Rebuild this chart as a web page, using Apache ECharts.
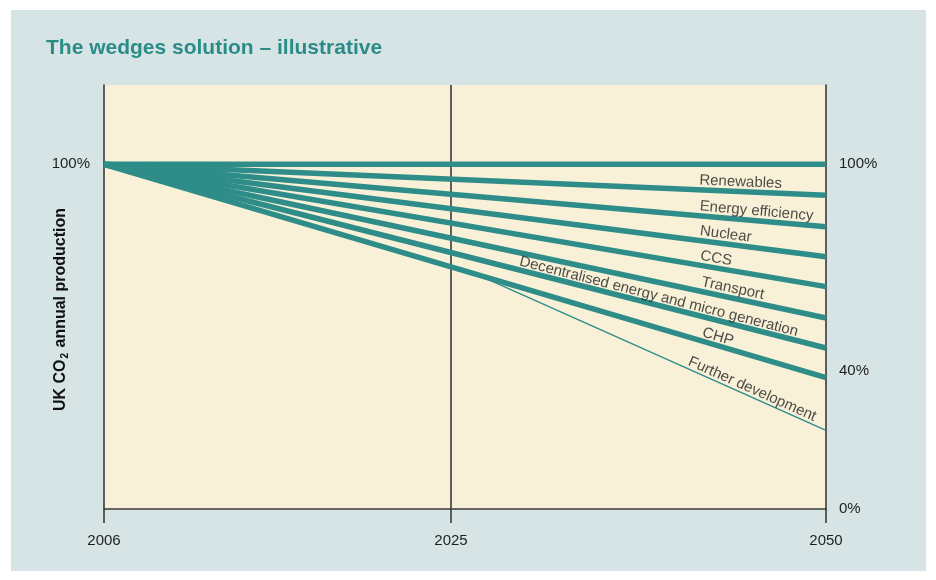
<!DOCTYPE html>
<html>
<head>
<meta charset="utf-8">
<title>The wedges solution – illustrative</title>
<script src="https://cdn.jsdelivr.net/npm/echarts@6/dist/echarts.min.js"></script>
<style>
  html, body { margin: 0; padding: 0; background: #ffffff; }
  #chart { width: 936px; height: 580px; }
</style>
</head>
<body>
<div id="chart"></div>
<script>
// Timeline ticks: the horizontal axis is illustrative, not to scale,
// so each year carries its own position along the axis (0 = start, 100 = end).
const yearLabels = ['2006', '2025', '2050'];
const yearPos = [0, 48.06, 100];

// Right-hand percentage ticks and the single left-hand tick
const rightTicks = [0, 40, 100];
const leftTicks = [100];

// Starting level of UK CO2 annual production (%)
const startLevel = 100;

// Each wedge's lower boundary: name and level reached by 2050 (%)
const wedgeNames = [
  'Renewables',
  'Energy efficiency',
  'Nuclear',
  'CCS',
  'Transport',
  'Decentralised energy and micro generation',
  'CHP'
];
const wedgeEnds = [91.0, 81.9, 73.2, 64.5, 55.4, 46.7, 38.1];

// Thin "Further development" line branches off the CHP line
const furtherName = 'Further development';
const furtherBranchPos = 51.7;
const furtherEnd = 22.8;

// Where each label starts along the timeline (styling only)
const wedgeLabelAt = [82.4, 82.4, 82.4, 82.4, 82.5, 57.3, 82.6];
const furtherLabelAt = 80.6;

const TEAL = '#2e8d89';
const INK = '#1e1e1e';
const AXIS = '#3a3a3a';
const FONT = '"Liberation Sans", Arial, Helvetica, sans-serif';

const chart = echarts.init(document.getElementById('chart'), null, { renderer: 'canvas' });

// Level on a straight line from (0, startLevel) to (100, end)
function levelAt(end, pos) {
  return startLevel + (end - startLevel) * pos / 100;
}

const chpEnd = wedgeEnds[wedgeEnds.length - 1];
const furtherStart = [furtherBranchPos, levelAt(chpEnd, furtherBranchPos)];

const lineSeries = [];
lineSeries.push({
  name: 'Baseline',
  type: 'line',
  data: [[0, startLevel], [100, startLevel]],
  symbol: 'none',
  lineStyle: { color: TEAL, width: 5.5, cap: 'butt' },
  z: 3,
  silent: true,
  markLine: {
    silent: true,
    symbol: 'none',
    label: { show: false },
    lineStyle: { color: AXIS, width: 1.6, type: 'solid' },
    data: [{ xAxis: yearPos[1] }],
    z: 1
  }
});
wedgeNames.forEach((name, i) => {
  lineSeries.push({
    name: name,
    type: 'line',
    data: [[0, startLevel], [100, wedgeEnds[i]]],
    symbol: 'none',
    lineStyle: { color: TEAL, width: 5.5, cap: 'butt' },
    z: 3,
    silent: true
  });
});
lineSeries.push({
  name: furtherName,
  type: 'line',
  data: [furtherStart, [100, furtherEnd]],
  symbol: 'none',
  lineStyle: { color: TEAL, width: 1.5 },
  z: 3,
  silent: true
});

const option = {
  animation: false,
  backgroundColor: 'transparent',
  graphic: [{
    type: 'rect',
    z: -100,
    silent: true,
    shape: { x: 11, y: 10, width: 915, height: 561 },
    style: { fill: '#d6e4e5' }
  }],
  title: {
    text: 'The wedges solution – illustrative',
    left: 46,
    top: 38,
    padding: 0,
    textStyle: { color: '#2b8c87', fontSize: 21, fontWeight: 'bold', fontFamily: FONT }
  },
  grid: {
    left: 104, right: 110, top: 85, bottom: 71,
    show: true, backgroundColor: '#f8f1d8', borderWidth: 0
  },
  xAxis: {
    type: 'value',
    min: 0,
    max: 100,
    splitLine: { show: false },
    axisLine: { show: true, onZero: false, lineStyle: { color: AXIS, width: 1.6 } },
    axisTick: { show: true, length: 14, customValues: yearPos, lineStyle: { color: AXIS, width: 1.6 } },
    axisLabel: {
      customValues: yearPos,
      margin: 24,
      color: INK,
      fontSize: 15,
      fontFamily: FONT,
      formatter: v => {
        const i = yearPos.findIndex(p => Math.abs(p - v) < 1e-6);
        return i >= 0 ? yearLabels[i] : '';
      }
    }
  },
  yAxis: [{
    type: 'value',
    min: 0,
    max: 123,
    position: 'left',
    splitLine: { show: false },
    axisLine: { show: true, lineStyle: { color: AXIS, width: 1.6 } },
    axisTick: { show: false },
    axisLabel: {
      customValues: leftTicks, margin: 14, color: INK, fontSize: 15, fontFamily: FONT,
      formatter: '{value}%'
    },
    name: 'UK CO{sub|2} annual production',
    nameLocation: 'middle',
    nameRotate: 90,
    nameGap: 34,
    nameMoveOverlap: false,
    nameTextStyle: {
      color: '#111111', fontSize: 16, fontWeight: 'bold', fontFamily: FONT,
      padding: [0, 25, 0, 0],
      rich: {
        sub: { fontSize: 10, fontWeight: 'bold', fontFamily: FONT, color: '#111111', padding: [9, 1, 0, 1] }
      }
    }
  }, {
    type: 'value',
    min: 0,
    max: 123,
    position: 'right',
    splitLine: { show: false },
    axisLine: { show: true, lineStyle: { color: AXIS, width: 1.6 } },
    axisTick: { show: false },
    axisLabel: {
      customValues: rightTicks, margin: 13, color: INK, fontSize: 15, fontFamily: FONT,
      formatter: '{value}%'
    }
  }],
  series: lineSeries
};

chart.setOption(option);

// Place each wedge label just above its line, turned to follow the line's slope
function angleOf(a, b) {
  const p = chart.convertToPixel({ gridIndex: 0 }, a);
  const q = chart.convertToPixel({ gridIndex: 0 }, b);
  return Math.atan2(q[1] - p[1], q[0] - p[0]) * 180 / Math.PI;
}

function makeLabel(text, point, ang, lift) {
  return {
    name: text + ' label',
    type: 'scatter',
    symbolSize: 0,
    silent: true,
    z: 5,
    data: [point],
    label: {
      show: true,
      formatter: text,
      position: [0, 0],
      align: 'left',
      verticalAlign: 'bottom',
      rotate: -ang,
      offset: [0, lift],
      color: INK,
      fontSize: 15,
      fontFamily: FONT
    }
  };
}

const labelSeries = [];
wedgeNames.forEach((name, i) => {
  const pos = wedgeLabelAt[i];
  const ang = angleOf([0, startLevel], [100, wedgeEnds[i]]);
  const lift = i >= 5 ? -1 : -2;
  labelSeries.push(makeLabel(name, [pos, levelAt(wedgeEnds[i], pos)], ang, lift));
});
{
  const ang = angleOf(furtherStart, [100, furtherEnd]);
  const t = (furtherLabelAt - furtherStart[0]) / (100 - furtherStart[0]);
  const lvl = furtherStart[1] + (furtherEnd - furtherStart[1]) * t;
  labelSeries.push(makeLabel(furtherName, [furtherLabelAt, lvl], ang, 0));
}

chart.setOption({ series: lineSeries.concat(labelSeries) });
</script>
</body>
</html>
